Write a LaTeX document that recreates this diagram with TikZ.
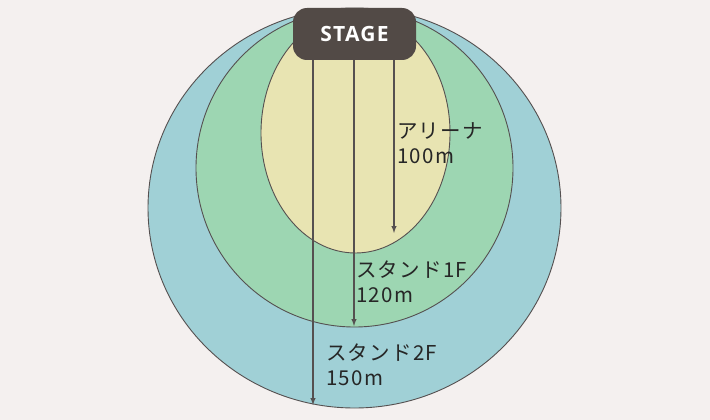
\documentclass[tikz,border=0pt]{standalone}
\usepackage{fontspec}
\newfontfamily\jpfont{Noto Sans CJK JP}[LetterSpace=6]
\newfontfamily\stagefont{Open Sans}[LetterSpace=6]
\usetikzlibrary{arrows}

\definecolor{bg}{HTML}{F4F0EF}
\definecolor{outerc}{HTML}{A0D0D6}
\definecolor{floorc}{HTML}{9DD6B2}
\definecolor{arenac}{HTML}{E8E4B2}
\definecolor{stagec}{HTML}{524A46}
\definecolor{edge}{HTML}{555050}

\tikzset{
  zone/.style={draw=edge, line width=0.9pt},
  stagebox/.style={fill=stagec, rounded corners=14pt, minimum width=123pt,
    minimum height=52pt, text=white, font=\stagefont\bfseries\fontsize{21}{24}\selectfont},
  dist/.style={draw=edge, line width=1.4pt, -latex},
  lbl/.style={anchor=north west, inner sep=0pt, align=left, text=black!85,
    font=\jpfont\fontsize{20.5}{25}\selectfont}
}

\begin{document}
\begin{tikzpicture}[x=1pt,y=-1pt]
\fill[bg] (0,0) rectangle (710,420);
\useasboundingbox (0,0) rectangle (710,420);

% seating zones
\draw[zone, fill=outerc] (354.5,208) ellipse (206.5 and 200);
\draw[zone, fill=floorc] (354.5,168) ellipse (158.5 and 159);
\draw[zone, fill=arenac] (355.5,133) ellipse (94.5 and 120);

\node[stagebox] (stage) at (354.5,34) {STAGE};

% distances
\coordinate (arenaend) at (394,233);
\coordinate (onefend) at (354,326);
\coordinate (twofend) at (313,405);
\draw[dist] (stage.south -| arenaend) -- (arenaend);
\draw[dist] (stage.south -| onefend) -- (onefend);
\draw[dist] (stage.south -| twofend) -- (twofend);

\node[lbl] (arenalbl) at (397,122) {アリーナ\\100m};
\node[lbl] (onelbl) at (356,261) {スタンド1F\\120m};
\node[lbl] (twolbl) at (326,344) {スタンド2F\\150m};
\end{tikzpicture}
\end{document}
